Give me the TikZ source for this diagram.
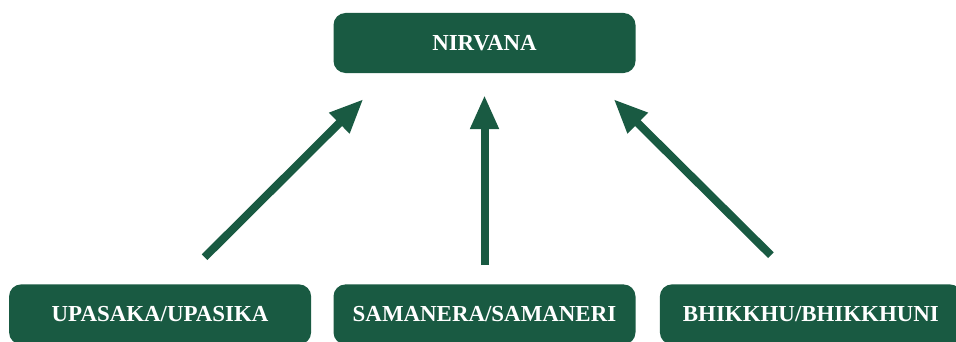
\documentclass[tikz,border=0pt]{standalone}
\usepackage{fontspec}
\setmainfont{Liberation Serif}
\usetikzlibrary{arrows.meta,positioning}
\definecolor{leaf}{HTML}{195A42}
\tikzset{
  >={Triangle[length=34bp, width=27bp]},
  stage/.style ={fill=leaf, rounded corners=12bp, minimum width=302bp, minimum height=60bp,
                 inner sep=0pt, text=white, font=\fontsize{23}{27}\selectfont\bfseries},
  rise/.style  ={->, draw=leaf, line width=8bp}
}
\begin{document}
\begin{tikzpicture}[x=1bp, y=1bp]
\useasboundingbox (0,0) rectangle (956,341);
\clip (0,0) rectangle (956,341);
\node[stage] (nirvana) at (484.5,298) {NIRVANA};
\node[stage, below=211bp of nirvana] (samanera) {SAMANERA/SAMANERI};
\node[stage, left=22bp of samanera] (upasaka) {UPASAKA/UPASIKA};
\node[stage, right=24bp of samanera] (bhikkhu) {BHIKKHU/BHIKKHUNI};
% free ends of the arrows
\coordinate (u-tail) at ([xshift=44.5bp, yshift=27bp]upasaka.north);
\coordinate (u-tip)  at ([xshift=30bp, yshift=-26bp]nirvana.south west);
\coordinate (s-tail) at ([yshift=19bp]samanera.north);
\coordinate (s-tip)  at ([yshift=-22bp]nirvana.south);
\coordinate (b-tail) at ([xshift=-40bp, yshift=29bp]bhikkhu.north);
\coordinate (b-tip)  at ([xshift=-22bp, yshift=-26bp]nirvana.south east);
\draw[rise] (u-tail) -- (u-tip);
\draw[rise] (s-tail) -- (s-tip);
\draw[rise] (b-tail) -- (b-tip);
\end{tikzpicture}
\end{document}
